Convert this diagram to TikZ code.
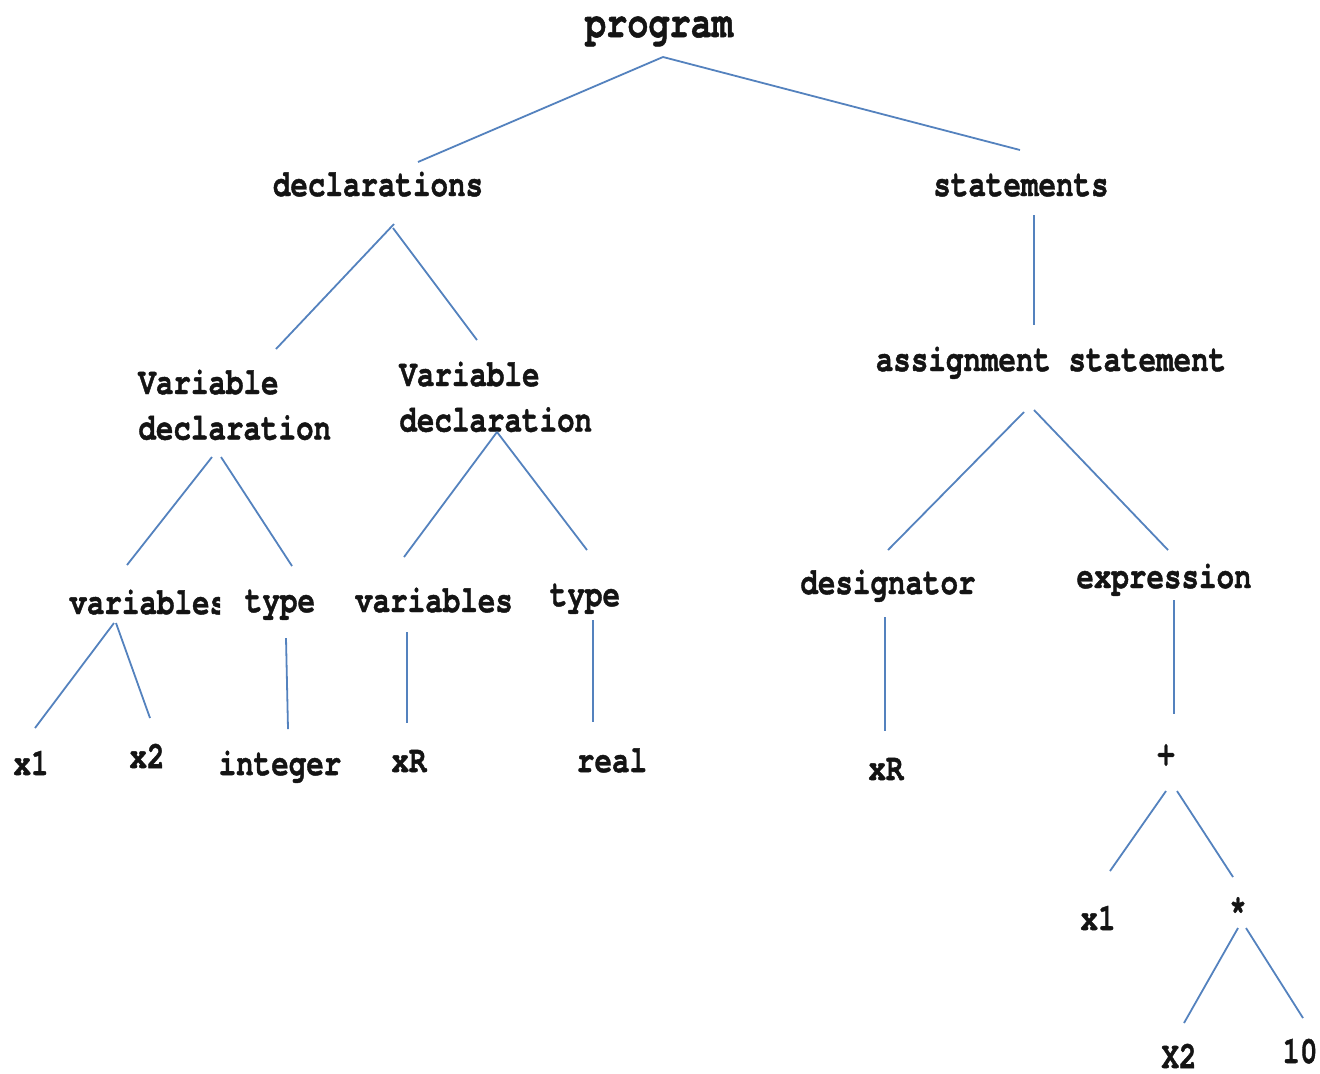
\documentclass[tikz,border=0pt]{standalone}
\usepackage{fontspec}
\setmonofont{texgyrecursor-regular.otf}[BoldFont=texgyrecursor-bold.otf, BoldFeatures={FakeBold=1.2}]
\usepackage{graphicx}
\definecolor{edgeblue}{RGB}{84,130,190}
\definecolor{inkblack}{RGB}{20,20,20}
\newcommand{\tall}[1]{\scalebox{1}[1.3]{#1}}
\tikzset{
  lbl/.style={font=\ttfamily\bfseries\fontsize{14.6}{17.5}\selectfont, inner sep=0pt, anchor=base, text=inkblack},
  biglbl/.style={lbl, font=\ttfamily\bfseries\fontsize{17.6}{21}\selectfont},
  edge/.style={draw=edgeblue, line width=0.9pt},
}
\begin{document}
\begin{tikzpicture}[x=0.5pt,y=-0.5pt]
\useasboundingbox (0,0) rectangle (1320,1073);
% nodes
\node[biglbl] (program) at (659,37) {\tall{program}};
\node[lbl] (decls) at (378,196) {\tall{declarations}};
\node[lbl] (stmts) at (1021,196) {\tall{statements}};
\node[lbl, anchor=base west] (vdl) at (138,394) {\tall{\begin{tabular}[t]{@{}l@{}}Variable\\declaration\end{tabular}}};
\node[lbl, anchor=base west] (vdr) at (399,386) {\tall{\begin{tabular}[t]{@{}l@{}}Variable\\declaration\end{tabular}}};
\node[lbl] (assign) at (1051,371) {\tall{assignment statement}};
\begin{scope}
  \clip (0,560) rectangle (220,650);
  \node[lbl, anchor=base west] (varsl) at (69,614) {\tall{variables}};
\end{scope}
\node[lbl] (typel) at (280,612) {\tall{type}};
\node[lbl] (varsr) at (434,612) {\tall{variables}};
\node[lbl] (typer) at (585,606) {\tall{type}};
\node[lbl] (desig) at (888,594) {\tall{designator}};
\node[lbl] (expr) at (1164,588) {\tall{expression}};
\node[lbl] (xa) at (31,775) {\tall{x1}};
\node[lbl] (xb) at (147,768) {\tall{x2}};
\node[lbl] (integer) at (280,775) {\tall{integer}};
\node[lbl] (xrl) at (409,772) {\tall{xR}};
\node[lbl] (real) at (612,772) {\tall{real}};
\node[lbl] (xrr) at (886,780) {\tall{xR}};
\node[lbl, anchor=center] (plus) at (1166,755) {\tall{+}};
\node[lbl] (xc) at (1098,930) {\tall{x1}};
\node[lbl, anchor=center] (times) at (1238,909) {\tall{*}};
\node[lbl] (xd) at (1179,1068) {\tall{X2}};
\node[lbl] (ten) at (1300,1063) {\tall{10}};
% connector end points
\coordinate (p0) at (663,57);
\coordinate (d0) at (418,162);
\coordinate (s0) at (1020,150);
\coordinate (d1) at (394,224);
\coordinate (d2) at (393,228);
\coordinate (vl0) at (276,349);
\coordinate (vr0) at (477,340);
\coordinate (s1) at (1034,215);
\coordinate (a0) at (1034,325);
\coordinate (vl1) at (212,457);
\coordinate (vl2) at (221,457);
\coordinate (vsl0) at (127,565);
\coordinate (tl0) at (292,566);
\coordinate (vr1) at (497,432);
\coordinate (vsr0) at (404,557);
\coordinate (tr0) at (587,550);
\coordinate (a1) at (1024,412);
\coordinate (a2) at (1034,410);
\coordinate (dg0) at (888,550);
\coordinate (ex0) at (1168,550);
\coordinate (vsl1) at (114,623);
\coordinate (vsl2) at (116,623);
\coordinate (xa0) at (35,728);
\coordinate (xb0) at (150,718);
\coordinate (tl1) at (286,638);
\coordinate (in0) at (288,729);
\coordinate (vsr1) at (407,632);
\coordinate (xrl0) at (407,723);
\coordinate (tr1) at (593,620);
\coordinate (re0) at (593,722);
\coordinate (dg1) at (885,617);
\coordinate (xrr0) at (885,731);
\coordinate (ex1) at (1174,600);
\coordinate (pl0) at (1174,714);
\coordinate (pl1) at (1166,791);
\coordinate (pl2) at (1177,791);
\coordinate (xc0) at (1110,871);
\coordinate (tm0) at (1233,877);
\coordinate (tm1) at (1238,928);
\coordinate (tm2) at (1246,928);
\coordinate (xd0) at (1184,1023);
\coordinate (te0) at (1303,1018);
% connectors
\draw[edge] (p0) -- (d0);
\draw[edge] (p0) -- (s0);
\draw[edge] (d1) -- (vl0);
\draw[edge] (d2) -- (vr0);
\draw[edge] (s1) -- (a0);
\draw[edge] (vl1) -- (vsl0);
\draw[edge] (vl2) -- (tl0);
\draw[edge] (vr1) -- (vsr0);
\draw[edge] (vr1) -- (tr0);
\draw[edge] (a1) -- (dg0);
\draw[edge] (a2) -- (ex0);
\draw[edge] (vsl1) -- (xa0);
\draw[edge] (vsl2) -- (xb0);
\draw[edge] (tl1) -- (in0);
\draw[edge] (vsr1) -- (xrl0);
\draw[edge] (tr1) -- (re0);
\draw[edge] (dg1) -- (xrr0);
\draw[edge] (ex1) -- (pl0);
\draw[edge] (pl1) -- (xc0);
\draw[edge] (pl2) -- (tm0);
\draw[edge] (tm1) -- (xd0);
\draw[edge] (tm2) -- (te0);
\end{tikzpicture}
\end{document}
